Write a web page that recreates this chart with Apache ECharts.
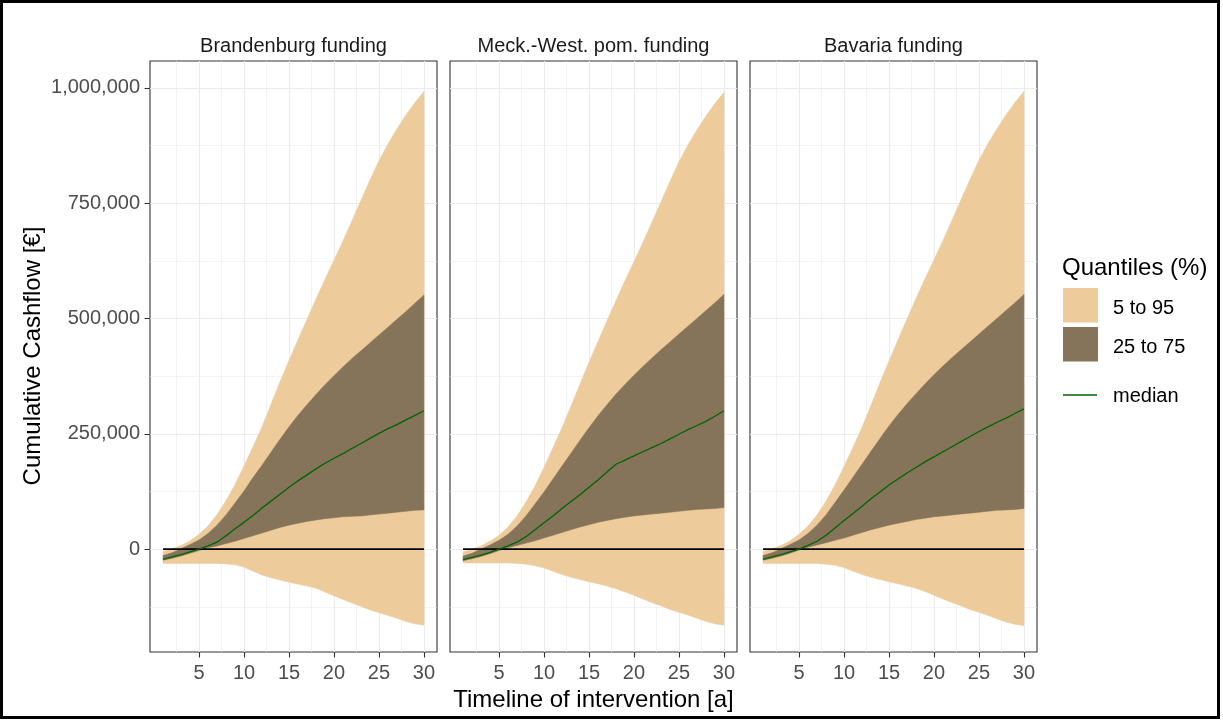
<!DOCTYPE html>
<html><head><meta charset="utf-8">
<script src="https://cdn.jsdelivr.net/npm/echarts@6/dist/echarts.min.js"></script>
<style>html,body{margin:0;padding:0;background:#fff}#c{width:1223px;height:720px}</style>
</head><body><div id="c"></div>
<script>
// ---------- data ----------
const years = [1,2,3,4,5,6,7,8,9,10,11,12,13,14,15,16,17,18,19,20,21,22,23,24,25,26,27,28,29,30];
const panelTitles = ['Brandenburg funding', 'Meck.-West. pom. funding', 'Bavaria funding'];

// Brandenburg funding
const bb_q05 = [-31000,-31000,-31000,-31000,-31000,-31000,-31000,-32000,-34000,-39000,-48000,-56000,-62000,-67000,-72000,-76000,-80000,-85000,-93000,-101000,-109000,-117000,-124000,-132000,-138000,-144000,-150000,-157000,-162000,-165000];
const bb_q25 = [-24000,-20000,-15000,-9000,-3000,3000,7000,12000,17000,23000,29000,35000,41000,47000,52000,56000,60000,63000,66000,68000,70000,71000,72000,74000,76000,78000,80000,82000,84000,85000];
const bb_q50 = [-22000,-17000,-12000,-6000,0,7000,15000,29000,44000,58000,73000,89000,104000,119000,134000,148000,161000,174000,186000,197000,207000,218000,229000,240000,251000,261000,270000,280000,290000,300000];
const bb_q75 = [-14000,-8000,1000,10000,20000,34000,52000,74000,100000,126000,155000,182000,210000,238000,265000,290000,313000,335000,356000,376000,395000,413000,430000,447000,464000,481000,498000,515000,533000,551000];
const bb_q95 = [-5000,1000,8000,18000,32000,50000,75000,105000,140000,180000,222000,265000,314000,363000,409000,454000,498000,542000,585000,626000,668000,712000,756000,800000,842000,878000,911000,941000,968000,992000];

// Meck.-West. pom. funding
const mv_q05 = [-30000,-30000,-30000,-30000,-30000,-30000,-31000,-33000,-36000,-41000,-48000,-55000,-61000,-66000,-71000,-75000,-80000,-86000,-93000,-100000,-108000,-116000,-123000,-131000,-137000,-143000,-150000,-157000,-162000,-165000];
const mv_q25 = [-25000,-21000,-16000,-10000,-3000,3000,8000,13000,18000,24000,30000,36000,42000,48000,53000,58000,62000,66000,69000,72000,74000,76000,78000,80000,82000,84000,86000,87000,88000,90000];
const mv_q50 = [-23000,-18000,-13000,-7000,0,7000,15000,27000,42000,57000,72000,88000,103000,118000,134000,150000,167000,184000,193000,202000,211000,220000,229000,239000,249000,259000,268000,277000,288000,300000];
const mv_q75 = [-15000,-9000,0,9000,19000,32000,50000,72000,98000,124000,152000,180000,208000,236000,263000,289000,313000,336000,357000,377000,396000,414000,432000,449000,466000,483000,500000,517000,534000,552000];
const mv_q95 = [-6000,0,7000,17000,30000,48000,72000,102000,137000,177000,220000,263000,310000,358000,405000,450000,495000,539000,582000,623000,665000,709000,753000,797000,840000,876000,909000,939000,966000,990000];

// Bavaria funding
const by_q05 = [-31000,-31000,-31000,-31000,-31000,-31000,-31000,-33000,-35000,-40000,-48000,-55000,-61000,-66000,-71000,-75000,-80000,-85000,-92000,-100000,-108000,-116000,-123000,-131000,-137000,-144000,-151000,-158000,-163000,-166000];
const by_q25 = [-24000,-20000,-15000,-9000,-2000,4000,9000,14000,19000,24000,30000,36000,42000,47000,52000,56000,60000,64000,67000,70000,72000,74000,76000,78000,80000,82000,84000,85000,86000,88000];
const by_q50 = [-22000,-17000,-12000,-6000,0,8000,17000,30000,46000,62000,77000,93000,109000,124000,139000,152000,165000,177000,189000,200000,211000,222000,233000,244000,255000,265000,275000,284000,294000,304000];
const by_q75 = [-14000,-8000,1000,10000,20000,34000,52000,74000,101000,128000,156000,184000,212000,240000,267000,292000,315000,337000,358000,378000,397000,415000,432000,449000,466000,483000,500000,517000,534000,552000];
const by_q95 = [-5000,1000,8000,18000,32000,50000,74000,104000,139000,179000,221000,264000,312000,361000,408000,454000,499000,543000,586000,627000,669000,713000,757000,801000,843000,879000,911000,941000,968000,992000];

const xTicks = [5,10,15,20,25,30];
const xMinorTicks = [2.5,7.5,12.5,17.5,22.5,27.5];
const yTicks = [0,250000,500000,750000,1000000];
const yMinorTicks = [-125000,125000,375000,625000,875000];

const legendLabels = ['5 to 95', '25 to 75', 'median'];

// ---------- chart ----------
const FONT = '"Liberation Sans", Arial, sans-serif';
const LIGHT = '#EDCB9B', DARK = '#857459', GREEN = '#006400';
const panels = [
  {q05: bb_q05, q25: bb_q25, q50: bb_q50, q75: bb_q75, q95: bb_q95},
  {q05: mv_q05, q25: mv_q25, q50: mv_q50, q75: mv_q75, q95: mv_q95},
  {q05: by_q05, q25: by_q25, q50: by_q50, q75: by_q75, q95: by_q95}
];
const gridLefts = [150, 450, 750];
const GT = 61, GH = 591, GW = 287;

const pairs = (ys) => years.map((x, k) => [x, ys[k]]);

const grid = gridLefts.map(l => ({left: l, top: GT, width: GW, height: GH, show: true, z: 0,
  borderColor: '#333333', borderWidth: 1.1, backgroundColor: 'rgba(0,0,0,0)'}));

const xAxis = gridLefts.map((l, i) => ({
  type: 'value', gridIndex: i, min: -0.45, max: 31.45,
  axisLine: {show: false, onZero: false},
  splitLine: {show: false}, minorSplitLine: {show: false},
  axisTick: {show: true, length: 5.5, lineStyle: {color: '#333333', width: 1.1}, customValues: xTicks},
  axisLabel: {show: true, customValues: xTicks, color: '#4D4D4D', fontSize: 20, fontFamily: FONT, margin: 11}
}));

const yAxis = gridLefts.map((l, i) => ({
  type: 'value', gridIndex: i, min: -223000, max: 1058000,
  axisLine: {show: false, onZero: false},
  splitLine: {show: false}, minorSplitLine: {show: false},
  axisTick: {show: i === 0, length: 5.5, lineStyle: {color: '#333333', width: 1.1}, customValues: yTicks},
  axisLabel: {show: i === 0, customValues: yTicks, color: '#4D4D4D', fontSize: 20, fontFamily: FONT, margin: 10,
    formatter: v => Number(v).toLocaleString('en-US')}
}));

// ribbon drawn as one polygon through the axis scales (api.coord)
function ribbon(lo, hi, color, i, name) {
  return {
    type: 'custom', name, xAxisIndex: i, yAxisIndex: i, silent: true, z: 3,
    data: years.map((x, k) => [x, lo[k], hi[k]]),
    encode: {x: 0, y: [1, 2]},
    clip: true,
    renderItem: function (params, api) {
      if (params.dataIndex !== 0) return null;
      const top = years.map((x, k) => api.coord([x, hi[k]]));
      const bot = years.map((x, k) => api.coord([x, lo[k]])).reverse();
      return {type: 'polygon', shape: {points: top.concat(bot)},
        style: {fill: color, stroke: color, lineWidth: 0.5}};
    }
  };
}

const series = [];
panels.forEach((p, i) => {
  const gl = [];
  xTicks.forEach(v => gl.push({xAxis: v, lineStyle: {width: 1.1}}));
  xMinorTicks.forEach(v => gl.push({xAxis: v, lineStyle: {width: 0.6}}));
  yTicks.forEach(v => gl.push({yAxis: v, lineStyle: {width: 1.1}}));
  yMinorTicks.forEach(v => gl.push({yAxis: v, lineStyle: {width: 0.6}}));
  series.push({type: 'line', xAxisIndex: i, yAxisIndex: i, data: [], z: 1, silent: true,
    markLine: {z: 1, silent: true, symbol: ['none', 'none'], label: {show: false}, animation: false,
      lineStyle: {color: '#EBEBEB', type: 'solid'}, emphasis: {disabled: true}, data: gl}});
  series.push(ribbon(p.q05, p.q95, LIGHT, i, legendLabels[0]));
  series.push(ribbon(p.q25, p.q75, DARK, i, legendLabels[1]));
  series.push({type: 'line', xAxisIndex: i, yAxisIndex: i, symbol: 'none', silent: true, z: 6,
    data: years.map(x => [x, 0]), lineStyle: {color: '#000000', width: 1.8}});
  series.push({type: 'line', name: legendLabels[2], xAxisIndex: i, yAxisIndex: i, symbol: 'none', silent: true, z: 7,
    data: pairs(p.q50), lineStyle: {color: GREEN, width: 1.3}, itemStyle: {color: GREEN}});
});

const graphic = [
  {type: 'rect', shape: {x: 1.5, y: 1.5, width: 1217, height: 716}, style: {fill: 'none', stroke: '#000', lineWidth: 3}, z: 100},
  {type: 'text', x: 33, y: 356, rotation: Math.PI / 2,
    style: {text: 'Cumulative Cashflow [€]', font: '24px ' + FONT, fill: '#000', textAlign: 'center', textVerticalAlign: 'middle'}},
  {type: 'text', x: 593.5, y: 700,
    style: {text: 'Timeline of intervention [a]', font: '24px ' + FONT, fill: '#000', textAlign: 'center', textVerticalAlign: 'middle'}},
  {type: 'text', x: 1062, y: 268,
    style: {text: 'Quantiles (%)', font: '24px ' + FONT, fill: '#000', textAlign: 'left', textVerticalAlign: 'middle'}},
  {type: 'rect', shape: {x: 1063, y: 288, width: 35, height: 34.5}, style: {fill: LIGHT}},
  {type: 'rect', shape: {x: 1063, y: 327, width: 35, height: 34.5}, style: {fill: DARK}},
  {type: 'line', shape: {x1: 1063, y1: 395, x2: 1097, y2: 395}, style: {stroke: GREEN, lineWidth: 1.5}},
  {type: 'text', x: 1113, y: 308, style: {text: legendLabels[0], font: '20px ' + FONT, fill: '#000', textVerticalAlign: 'middle'}},
  {type: 'text', x: 1113, y: 347, style: {text: legendLabels[1], font: '20px ' + FONT, fill: '#000', textVerticalAlign: 'middle'}},
  {type: 'text', x: 1113, y: 396, style: {text: legendLabels[2], font: '20px ' + FONT, fill: '#000', textVerticalAlign: 'middle'}}
];
panelTitles.forEach((t, i) => {
  graphic.push({type: 'text', x: gridLefts[i] + GW / 2, y: 46,
    style: {text: t, font: '20px ' + FONT, fill: '#1A1A1A', textAlign: 'center', textVerticalAlign: 'middle'}});
});

const chart = echarts.init(document.getElementById('c'), null, {renderer: 'canvas'});
chart.setOption({animation: false, backgroundColor: '#ffffff', grid, xAxis, yAxis, series, graphic});
</script></body></html>
